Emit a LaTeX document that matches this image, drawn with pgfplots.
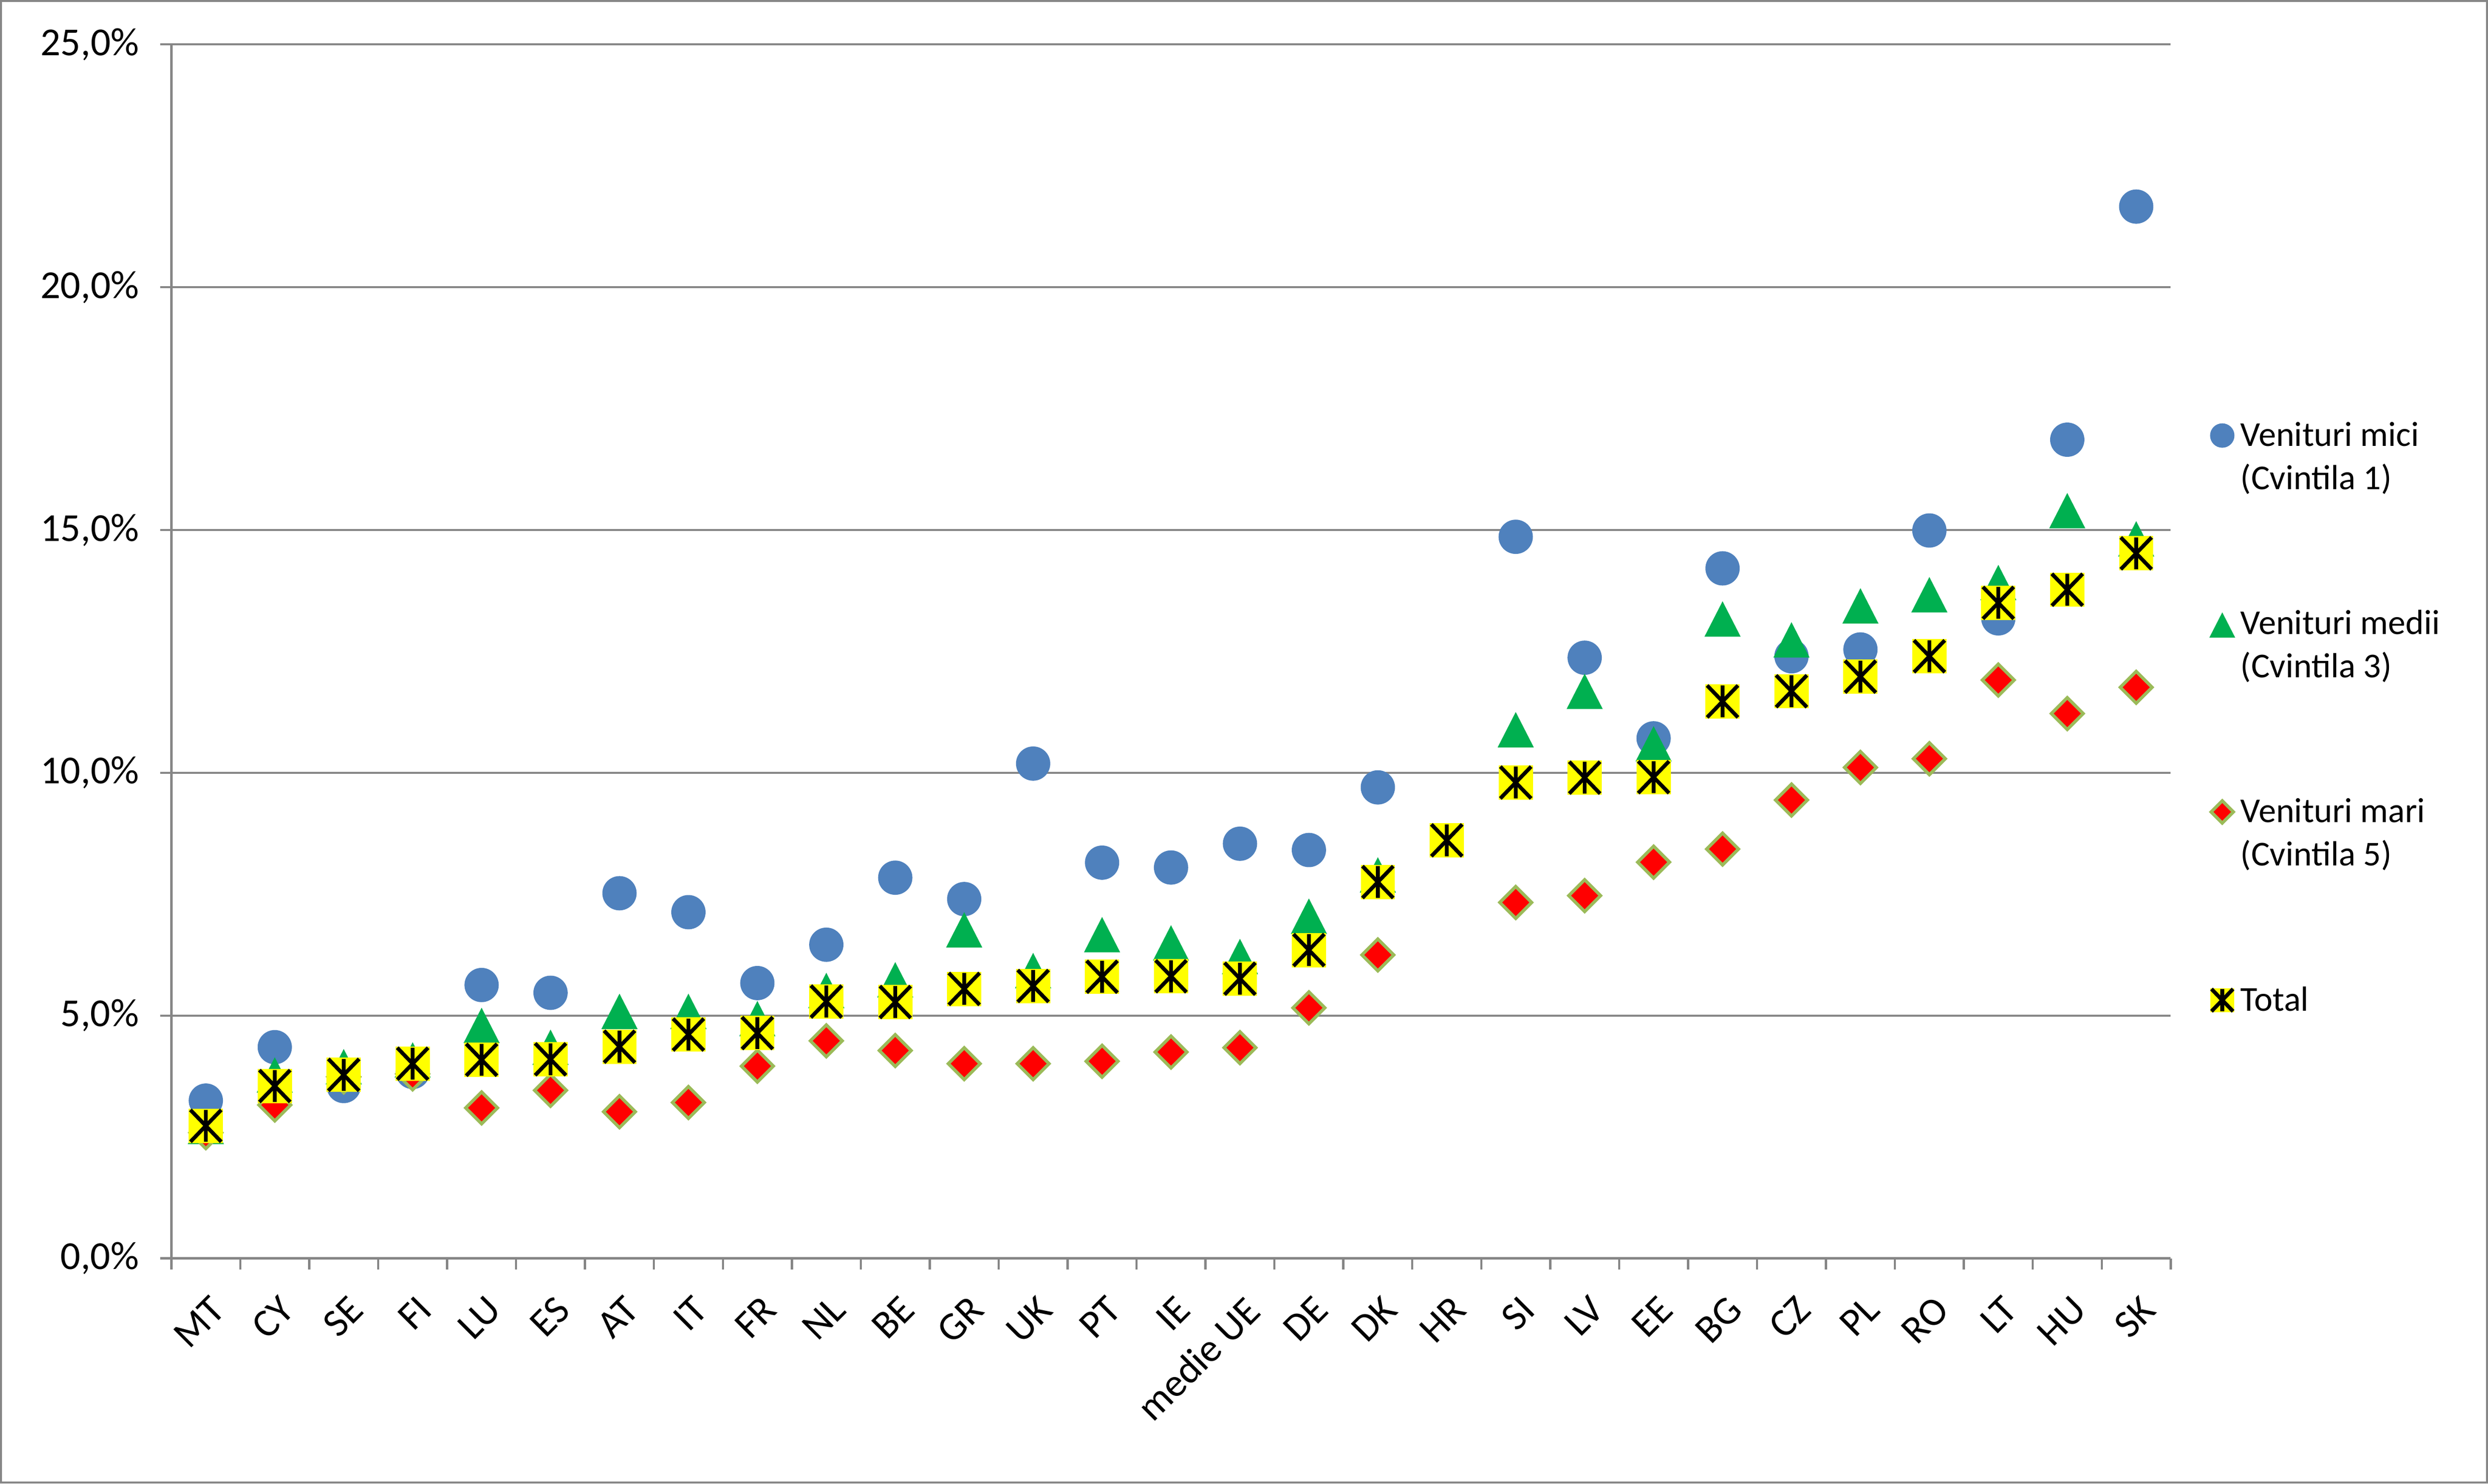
\documentclass[border=0pt]{standalone}
\usepackage{fontspec}
\setmainfont{Carlito}
\usepackage{pgfplots}
\usepackage{pgfplotstable}
\pgfplotsset{compat=1.18}
\definecolor{cblue}{RGB}{79,129,189}
\definecolor{cgreen}{RGB}{0,176,80}
\definecolor{cred}{RGB}{255,0,0}
\definecolor{colive}{RGB}{155,187,89}
\definecolor{cyel}{RGB}{255,255,0}
\definecolor{cgrid}{RGB}{134,134,134}

\pgfdeclareplotmark{totalmk}{%
  \pgfpathrectangle{\pgfqpoint{-\pgfplotmarksize}{-\pgfplotmarksize}}{\pgfqpoint{2\pgfplotmarksize}{2\pgfplotmarksize}}%
  \pgfsetfillcolor{cyel}\pgfusepathqfill
  \pgfsetstrokecolor{black}%
  \pgfpathmoveto{\pgfqpoint{0pt}{0.93\pgfplotmarksize}}\pgfpathlineto{\pgfqpoint{0pt}{-0.93\pgfplotmarksize}}%
  \pgfpathmoveto{\pgfqpoint{-0.9\pgfplotmarksize}{0.93\pgfplotmarksize}}\pgfpathlineto{\pgfqpoint{0.9\pgfplotmarksize}{-0.93\pgfplotmarksize}}%
  \pgfpathmoveto{\pgfqpoint{-0.9\pgfplotmarksize}{-0.93\pgfplotmarksize}}\pgfpathlineto{\pgfqpoint{0.9\pgfplotmarksize}{0.93\pgfplotmarksize}}%
  \pgfusepathqstroke
}

\pgfplotsset{myleg/.style={legend image code/.code={\draw[yshift=3.35pt,##1,every mark/.append style={scale=0.7}] plot coordinates {(0pt,0pt)};}}}

\newcommand{\lgd}[2]{\parbox[t]{3.2cm}{\raggedright\rule{0pt}{8pt}#1\\#2\rule[-3pt]{0pt}{3pt}}}

\pgfplotstableread{
x blue green red total
0 3.25 2.71 2.59 2.73
1 4.35 3.77 3.16 3.55
2 3.55 3.94 3.74 3.78
3 3.84 4.08 3.80 4.01
4 5.63 4.79 3.10 4.09
5 5.47 4.34 3.46 4.10
6 7.52 5.08 3.02 4.36
7 7.13 5.08 3.21 4.61
8 5.67 4.93 3.96 4.64
9 6.46 5.51 4.48 5.29
10 7.84 5.73 4.28 5.28
11 7.40 6.76 4.01 5.55
12 10.19 5.92 4.01 5.61
13 8.15 6.66 4.06 5.80
14 8.05 6.49 4.25 5.81
15 8.54 6.21 4.34 5.76
16 8.41 7.04 5.16 6.35
17 9.70 7.89 6.25 7.75
18 nan nan nan 8.61
19 14.86 10.88 7.33 9.80
20 12.37 11.67 7.47 9.90
21 10.71 10.59 8.16 9.91
22 14.21 13.16 8.43 11.47
23 12.40 12.73 9.44 11.68
24 12.54 13.43 10.11 11.98
25 14.99 13.66 10.29 12.40
26 13.18 13.91 11.91 13.50
27 16.86 15.39 11.22 13.77
28 21.66 14.81 11.76 14.52
}\data

\begin{document}
\begin{tikzpicture}
\useasboundingbox (-54pt,-71pt) rectangle (730pt,396.5pt);
\draw[cgrid, line width=0.7pt] (-53.65pt,-70.65pt) rectangle (729.65pt,396.15pt);
\begin{axis}[
  at={(0,0)}, anchor=south west,
  scale only axis, width=630pt, height=382.5pt,
  xmin=-0.5, xmax=28.5, ymin=0, ymax=25,
  axis x line*=bottom, axis y line*=left,
  axis line style={cgrid, line width=0.7pt},
  xtick={0,...,28},
  xticklabels={MT,CY,SE,FI,LU,ES,AT,IT,FR,NL,BE,GR,UK,PT,IE,medie UE,DE,DK,HR,SI,LV,EE,BG,CZ,PL,RO,LT,HU,SK},
  minor xtick={-0.5,0.5,...,28.5},
  ytick={0,5,...,25},
  yticklabels={{0,0\%},{5,0\%},{10,0\%},{15,0\%},{20,0\%},{25,0\%}},
  minor ytick={0,5,...,25},
  major tick length=0pt, minor tick length=3.5pt, tick align=outside,
  minor tick style={cgrid, line width=0.7pt},
  ymajorgrids, major grid style={cgrid, line width=0.7pt},
  ticklabel style={font=\fontsize{12.5}{15}\selectfont, inner sep=0pt, text=black},
  xticklabel style={yshift=-11pt, xshift=1pt, rotate=45, anchor=north east},
  yticklabel style={anchor=east, xshift=-10pt},
  legend style={draw=none, fill=none, at={(1.0198,0.6952)}, anchor=north west,
    inner sep=0pt, outer sep=0pt, row sep=45.8pt, column sep=0pt,
    font=\fontsize{11}{13.6}\selectfont, cells={anchor=base west}},
]
\addplot[only marks, mark=*, mark size=5.2pt, mark options={fill=cblue, draw=cblue}, myleg] table[x=x,y=blue]{\data};
\addlegendentry{\lgd{Venituri mici}{(Cvintila 1)}}
\addplot[only marks, mark=triangle*, mark size=6.2pt, mark options={fill=cgreen, draw=cgreen, yshift=-1.75pt, yscale=1.13}, myleg] table[x=x,y=green]{\data};
\addlegendentry{\lgd{Venituri medii}{(Cvintila 3)}}
\addplot[only marks, mark=square*, mark size=3.55pt, mark options={rotate=45, fill=cred, draw=colive, line width=1pt}, myleg] table[x=x,y=red]{\data};
\addlegendentry{\lgd{Venituri mari}{(Cvintila 5)}}
\addplot[only marks, mark=totalmk, mark size=5.4pt, mark options={line width=1.2pt}, myleg] table[x=x,y=total]{\data};
\addlegendentry{\lgd{Total}{}}
\end{axis}
\end{tikzpicture}
\end{document}
